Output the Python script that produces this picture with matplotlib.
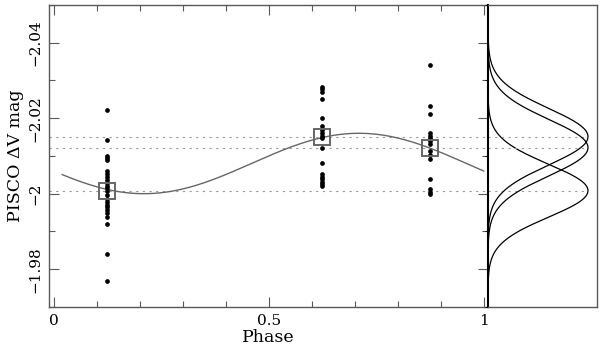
import numpy as np
import matplotlib
matplotlib.use("Agg")
import matplotlib.pyplot as plt
from matplotlib.ticker import MultipleLocator, FixedLocator

plt.rcParams['font.family'] = ['DejaVu Serif']

# photometry at three phases
phase_groups = [0.125, 0.625, 0.875]
mags_a = [-2.0221, -2.0141, -2.0101, -2.0095, -2.0089, -2.0060, -2.0052, -2.0045,
          -2.0036, -2.0029, -2.0021, -2.0014, -2.0006, -1.9997, -1.9986, -1.9978,
          -1.9971, -1.9964, -1.9956, -1.9948, -1.9939, -1.9920, -1.9840, -1.9770]
mags_b = [-2.0282, -2.0276, -2.0270, -2.0251, -2.0201, -2.0180, -2.0169, -2.0161,
          -2.0154, -2.0148, -2.0121, -2.0080, -2.0051, -2.0044, -2.0038, -2.0032,
          -2.0026, -2.0020]
mags_c = [-2.0341, -2.0231, -2.0210, -2.0161, -2.0154, -2.0148, -2.0140, -2.0131,
          -2.0114, -2.0102, -2.0091, -2.0040, -2.0013, -2.0005, -1.9998]

# group means (squares / dotted lines)
group_means = [-2.0008, -2.0151, -2.0122]
# gaussian widths for the side panel
group_sigmas = [0.0070, 0.0075, 0.0075]

# sine fit parameters
fit_mean = -2.008
fit_amp = 0.008
fit_phase0 = 0.21
fit_range = (0.02, 1.0)

fig = plt.figure(figsize=(6.0, 3.52), dpi=100)
ax = fig.add_axes([0.0822, 0.128, 0.7311, 0.858])
axr = fig.add_axes([0.8133, 0.128, 0.1817, 0.858], sharey=ax)

gray = '0.35'
dot_style = dict(color='0.6', lw=0.8, linestyle=(0, (2, 4)))

for m in group_means:
    ax.axhline(m, **dot_style, zorder=1)

ph = np.linspace(fit_range[0], fit_range[1], 300)
ax.plot(ph, fit_mean + fit_amp * np.cos(2 * np.pi * (ph - fit_phase0)),
        color='0.4', lw=1.0, zorder=2)

for p, mags in zip(phase_groups, [mags_a, mags_b, mags_c]):
    ax.plot([p] * len(mags), mags, 'o', color='black', ms=3.4, mec='none', zorder=3)

ax.plot(phase_groups, group_means, 's', ms=12, mfc='none', mec='0.4', mew=1.4, zorder=4)

ax.set_xlim(-0.01, 1.01)
ax.set_ylim(-1.97, -2.05)
ax.xaxis.set_major_locator(FixedLocator([0, 0.5, 1]))
ax.xaxis.set_minor_locator(MultipleLocator(0.1))
ax.set_xticklabels(['0', '0.5', '1'])
ax.yaxis.set_major_locator(MultipleLocator(0.02))
ax.yaxis.set_minor_locator(MultipleLocator(0.01))
ax.set_yticks([-2.04, -2.02, -2.0, -1.98])
ax.set_yticklabels(['\u22122.04', '\u22122.02', '\u22122', '\u22121.98'],
                   rotation=90, va='center')
ax.tick_params(which='both', direction='in', top=True, right=True, colors=gray,
               labelcolor='black', labelsize=11)
ax.tick_params(which='major', length=7, width=0.8, pad=5)
ax.tick_params(which='minor', length=4, width=0.8)
for s in ax.spines.values():
    s.set_color(gray)
    s.set_linewidth(1.0)
ax.spines['right'].set_visible(False)

ax.set_xlabel('Phase', fontsize=12.5, labelpad=1)
ax.set_ylabel('PISCO \u0394V mag', fontsize=12.5, labelpad=3)

# side panel with gaussians
yy = np.linspace(-2.05, -1.97, 600)
for m, s in zip(group_means, group_sigmas):
    axr.plot(np.exp(-0.5 * ((yy - m) / s) ** 2), yy, color='black', lw=0.9)
    axr.plot([0, 1], [m, m], **dot_style)
axr.set_xlim(0, 1.09)
axr.tick_params(left=False, labelleft=False, bottom=False, labelbottom=False)
for s in axr.spines.values():
    s.set_color(gray)
    s.set_linewidth(1.0)
axr.spines['left'].set_color('black')
axr.spines['left'].set_linewidth(1.5)

fig.savefig('out.png', dpi=100)
